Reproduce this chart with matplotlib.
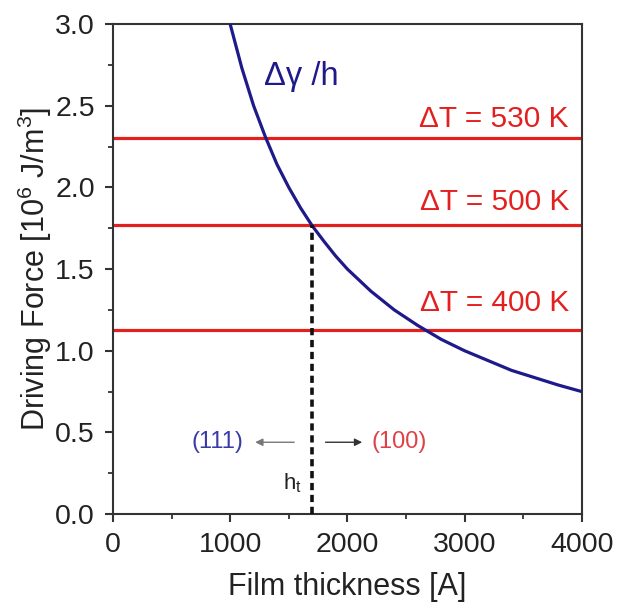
import matplotlib.pyplot as plt
from matplotlib.ticker import MultipleLocator

plt.rcParams["font.family"] = ["Liberation Sans", "DejaVu Sans"]

# -----------------------------
# Data
# -----------------------------
thickness = [1000, 1100, 1200, 1300, 1400, 1500, 1600, 1700, 1800, 1900, 2000,
             2200, 2400, 2600, 2800, 3000, 3200, 3400, 3600, 3800, 4000]
driving_force = [3.00, 2.73, 2.50, 2.31, 2.14, 2.00, 1.875, 1.765, 1.67, 1.58, 1.50,
                 1.365, 1.25, 1.155, 1.07, 1.00, 0.94, 0.88, 0.835, 0.79, 0.75]

dT_labels = ["\u0394T = 530 K", "\u0394T = 500 K", "\u0394T = 400 K"]
dT_levels = [2.30, 1.77, 1.13]

h_t = 1700

# -----------------------------
# Figure
# -----------------------------
fig = plt.figure(figsize=(6.17, 6.15), dpi=100)
ax = fig.add_axes([0.183, 0.164, 0.760, 0.797])

red = "#e3201f"
navy = "#1f1a8a"

for level in dT_levels:
    ax.axhline(level, color=red, linewidth=2.3, zorder=2)

ax.plot(thickness, driving_force, color=navy, linewidth=2.3, zorder=3)
ax.plot([h_t, h_t], [0, dT_levels[1]], color="#111111", linestyle=(0, (2.0, 1.3)),
        linewidth=2.6, zorder=4)

# labels
ax.text(1290, 2.68, "\u0394\u03b3 /h", color=navy, fontsize=23.5, va="center")
label_y = [2.42, 1.91, 1.29]
for lab, ly in zip(dT_labels, label_y):
    ax.text(3890, ly, lab, color=red, fontsize=21.5, ha="right", va="center")

ax.annotate("", xy=(1190, 0.44), xytext=(1570, 0.44),
            arrowprops=dict(arrowstyle="-|>", color="#777777", lw=1.0,
                            mutation_scale=11))
ax.text(1110, 0.44, "(111)", color="#3b3ba8", fontsize=17, ha="right", va="center")
ax.annotate("", xy=(2150, 0.44), xytext=(1790, 0.44),
            arrowprops=dict(arrowstyle="-|>", color="#333333", lw=1.0,
                            mutation_scale=11))
ax.text(2210, 0.44, "(100)", color="#e04048", fontsize=17, ha="left", va="center")
ax.text(1610, 0.19, "h$_\\mathregular{t}$", color="#222222", fontsize=16,
        ha="right", va="center")

# axes
ax.set_xlim(0, 4000)
ax.set_ylim(0, 3.0)
ax.xaxis.set_major_locator(MultipleLocator(1000))
ax.xaxis.set_minor_locator(MultipleLocator(500))
ax.yaxis.set_major_locator(MultipleLocator(0.5))
ax.yaxis.set_minor_locator(MultipleLocator(0.25))
ax.yaxis.set_major_formatter(plt.FuncFormatter(lambda v, p: f"{v:.1f}"))
ax.tick_params(which="major", direction="out", length=6, width=1.5,
               labelsize=20.5, colors="#333333", labelcolor="#222222", pad=7)
ax.tick_params(which="minor", direction="out", length=3.8, width=1.3,
               colors="#333333")
for side in ["left", "bottom", "top", "right"]:
    ax.spines[side].set_linewidth(1.5)
    ax.spines[side].set_color("#333333")

ax.set_xlabel("Film thickness [A]", fontsize=22, labelpad=10, color="#222222")
ax.set_ylabel("Driving Force [10$^\\mathregular{6}$ J/m$^\\mathregular{3}$]",
              fontsize=22, labelpad=1, color="#222222")

fig.savefig("out.png", dpi=100)
